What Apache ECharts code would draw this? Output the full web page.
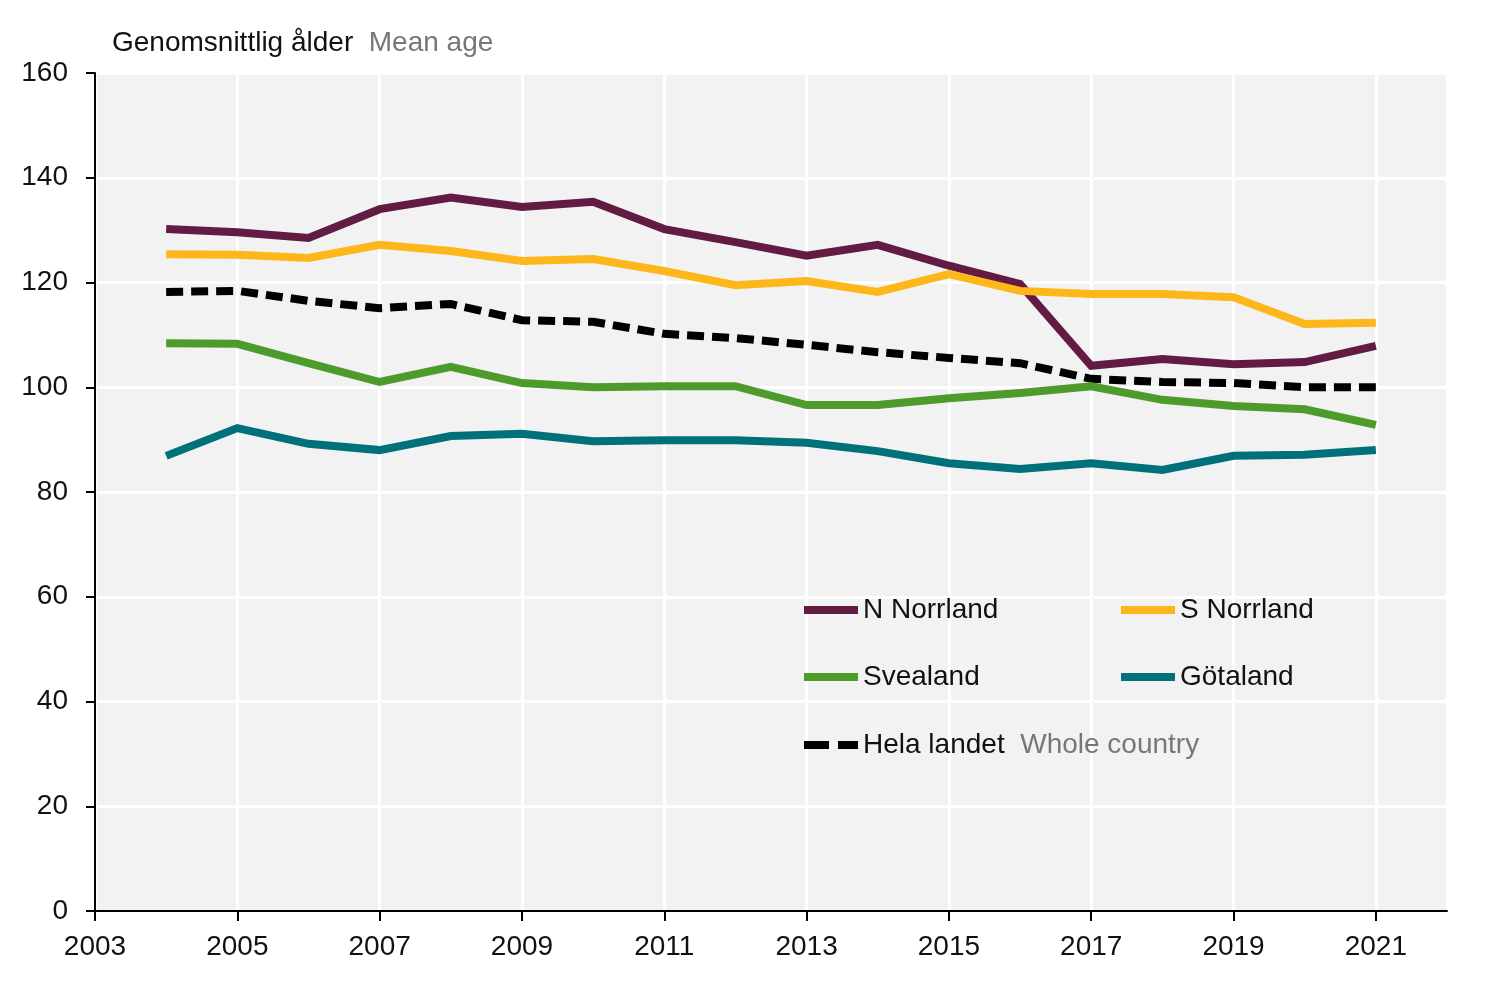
<!DOCTYPE html>
<html><head><meta charset="utf-8">
<script src="https://cdn.jsdelivr.net/npm/echarts@6/dist/echarts.min.js"></script>
<style>html,body{margin:0;padding:0;background:#fff}#c{width:1500px;height:987px}</style>
</head><body><div id="c"></div>
<script>
var years = [2004,2005,2006,2007,2008,2009,2010,2011,2012,2013,2014,2015,2016,2017,2018,2019,2020,2021];
var nNorrland = [130.2,129.6,128.5,134.0,136.2,134.4,135.4,130.2,127.7,125.1,127.2,123.2,119.7,104.1,105.4,104.4,104.8,107.9];
var sNorrland = [125.4,125.3,124.7,127.2,126.0,124.1,124.5,122.2,119.5,120.3,118.2,121.6,118.4,117.8,117.8,117.2,112.1,112.3];
var svealand  = [108.4,108.3,104.6,101.0,103.9,100.8,100.0,100.2,100.2,96.6,96.6,97.9,98.9,100.2,97.6,96.4,95.8,92.8];
var gotaland  = [86.9,92.2,89.2,88.0,90.7,91.1,89.7,89.9,89.9,89.4,87.8,85.5,84.4,85.5,84.2,86.9,87.1,88.0];
var helaLandet= [118.2,118.4,116.5,115.1,115.9,112.8,112.5,110.2,109.4,108.1,106.7,105.6,104.6,101.6,101.0,100.8,100.0,100.0];

function pairs(v){ return years.map(function(y,i){ return [y, v[i]]; }); }
var FONT = 'Liberation Sans';
var chart = echarts.init(document.getElementById('c'));
function leg(name, left, top, dashed){
  return {
    data:[{name:name, icon: dashed ? 'path://M0,0h25v8h-25z M34,0h20v8h-20z' : 'rect'}],
    left:left, top:top, itemWidth:54, itemHeight:8, itemGap:0, padding:0,
    textStyle:{fontFamily:FONT, fontSize:28, color:'#111',
      rich:{g:{fontFamily:FONT, fontSize:28, color:'#777'}}},
    formatter:function(n){ return n==='Hela landet' ? 'Hela landet  {g|Whole country}' : n; },
    selectedMode:false
  };
}
var series = [
  {name:'N Norrland', data:pairs(nNorrland), color:'#621b43'},
  {name:'S Norrland', data:pairs(sNorrland), color:'#fdb71b'},
  {name:'Svealand', data:pairs(svealand), color:'#4d9b2b'},
  {name:'Götaland', data:pairs(gotaland), color:'#00717b'},
  {name:'Hela landet', data:pairs(helaLandet), color:'#000000', dash:true}
].map(function(s){
  return {
    name:s.name, type:'line', data:s.data, symbol:'none', silent:true,
    itemStyle:{color:s.color},
    lineStyle:{color:s.color, width:8, type:s.dash?[17,8]:'solid', cap:'butt', join:'miter'},
    z: s.dash?2:3
  };
});
chart.setOption({
  animation:false,
  title:{
    text:'Genomsnittlig ålder  {g|Mean age}', left:112, top:29, padding:0,
    textStyle:{fontFamily:FONT, fontSize:28, fontWeight:'normal', color:'#111',
      rich:{g:{fontFamily:FONT, fontSize:28, color:'#777'}}}
  },
  legend:[
    leg('N Norrland',804,596),
    leg('S Norrland',1121,596),
    leg('Svealand',804,663),
    leg('Götaland',1121,663),
    leg('Hela landet',804,731,true)
  ],
  grid:{left:95, right:53, top:73, bottom:76, show:true, backgroundColor:'#f2f2f2', borderWidth:0},
  xAxis:{
    type:'value', min:2003, max:2022, interval:2,
    axisLine:{show:true, lineStyle:{color:'#000', width:2}},
    axisTick:{show:true, length:10, lineStyle:{color:'#000', width:2}},
    axisLabel:{fontFamily:FONT, fontSize:28, color:'#111', margin:22, showMaxLabel:false,
      formatter:function(v){return String(v);}},
    splitLine:{show:true, lineStyle:{color:'#fff', width:3}}
  },
  yAxis:{
    type:'value', min:0, max:160, interval:20,
    axisLine:{show:true, lineStyle:{color:'#000', width:2}},
    axisTick:{show:true, length:9, lineStyle:{color:'#000', width:2}},
    axisLabel:{fontFamily:FONT, fontSize:28, color:'#111', margin:27},
    splitLine:{show:true, lineStyle:{color:'#fff', width:3}}
  },
  series:series
});
</script></body></html>
